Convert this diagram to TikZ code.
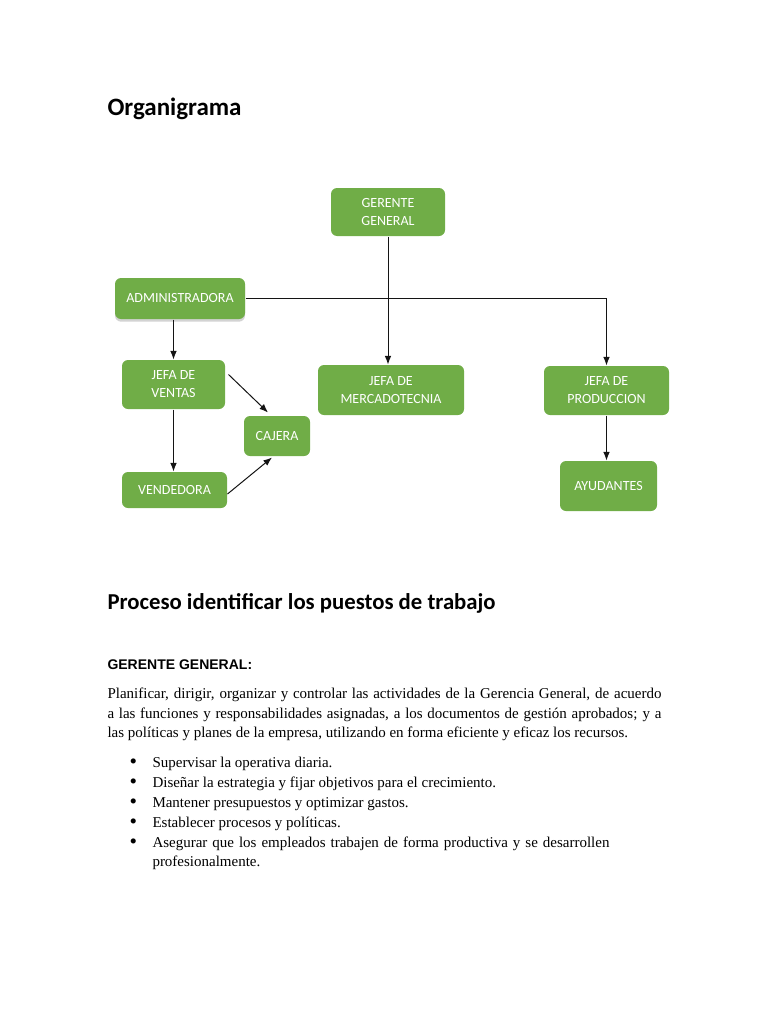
\documentclass[tikz,border=0pt]{standalone}
\usepackage{fontspec}
\setmainfont{Liberation Serif}
\setsansfont{Carlito}
\newfontfamily\arialfont{Liberation Sans}
\usetikzlibrary{arrows.meta,shadows}

\definecolor{boxgreen}{RGB}{112,173,71}
\tikzset{every picture/.style={line width=0.75pt}}
\tikzset{
  orgbox/.style={fill=boxgreen, rounded corners=4.5pt, inner sep=0pt,
    align=center, text=white, font=\sffamily\fontsize{10.5}{13.5}\selectfont},
  orgline/.style={draw={rgb,255:red,20;green,20;blue,20}, line width=0.75pt},
  orgarrow/.style={orgline, -{Latex[length=6.5pt,width=5pt]}},
  bodytext/.style={inner sep=0pt, font=\rmfamily\fontsize{11.25}{14.6}\selectfont}
}

\begin{document}
\begin{tikzpicture}[x=0.75pt,y=0.75pt,yscale=-1,xscale=1]
\useasboundingbox (0,0) rectangle (768,1024);

% Title
\node (title) [anchor=base west, inner sep=0pt, font=\sffamily\bfseries\fontsize{18.75}{22}\selectfont] at (107,115) {Organigrama};

%Shape: Boxes
\node (gg) [orgbox, minimum width=85.5pt, minimum height=36pt] at (388,212) {GERENTE\\GENERAL};
\node (adm) [orgbox, minimum width=97.5pt, minimum height=30.75pt,
  drop shadow={opacity=0.35, shadow xshift=0pt, shadow yshift=-2pt}] at (180,298.5) {ADMINISTRADORA};
\node (jv) [orgbox, minimum width=77.25pt, minimum height=36.75pt] at (173.5,384.5) {JEFA DE\\VENTAS};
\node (jm) [orgbox, minimum width=109.5pt, minimum height=37.5pt] at (391,390) {JEFA DE\\MERCADOTECNIA};
\node (jp) [orgbox, minimum width=93.75pt, minimum height=36.75pt] at (606.5,390.5) {JEFA DE\\PRODUCCION};
\node (cj) [orgbox, minimum width=49.5pt, minimum height=30pt] at (277,436) {CAJERA};
\node (vd) [orgbox, minimum width=78.75pt, minimum height=27pt] at (174.5,490) {VENDEDORA};
\node (ay) [orgbox, minimum width=72.75pt, minimum height=37.5pt] at (608.5,486) {AYUDANTES};

%Connectors
\draw [orgarrow] (gg.south) -- (gg.south |- jm.north);
\draw [orgarrow] (adm.east) -| (jp.north);
\draw [orgarrow] (jv.north |- adm.south) -- (jv.north);
\draw [orgarrow] (jv.south) -- (jv.south |- vd.north);
\draw [orgarrow] ([shift={(3,-10)}]jv.east) -- ([shift={(-9,-3)}]cj.north);
\draw [orgarrow] ([shift={(0,4)}]vd.east) -- ([shift={(-5,1)}]cj.south);
\draw [orgarrow] (jp.south) -- (jp.south |- ay.north);

% Text Node
\node (sec) [anchor=base west, inner sep=0pt, font=\sffamily\bfseries\fontsize{17.05}{20}\selectfont] at (107,609) {Proceso identificar los puestos de trabajo};
% Text Node
\node (sub) [anchor=base west, inner sep=0pt, font=\arialfont\bfseries\fontsize{10.5}{12}\selectfont] at (107,669) {GERENTE GENERAL:};
% Text Node
\node (par) [bodytext, anchor=north west, text width=415.5pt, align=justify] at (107,684.4)
  {\strut Planificar, dirigir, organizar y controlar las actividades de la Gerencia General, de acuerdo\linebreak
   a las funciones y responsabilidades asignadas, a los documentos de gestión aprobados; y a\linebreak
   las políticas y planes de la empresa, utilizando en forma eficiente y eficaz los recursos.};

% Bullets
\foreach \txt [count=\i] in {Supervisar la operativa diaria.,
  Diseñar la estrategia y fijar objetivos para el crecimiento.,
  Mantener presupuestos y optimizar gastos.,
  Establecer procesos y políticas.}
{
  \node (dot\i) [bodytext, anchor=base west, font=\rmfamily\fontsize{16}{16}\selectfont] at (129,748+20*\i) {•};
  \node (item\i) [bodytext, anchor=base west] at (152,747+20*\i) {\txt};
}
% Text Node
\node (dot5) [bodytext, anchor=base west, font=\rmfamily\fontsize{16}{16}\selectfont] at (129,848) {•};
\node (item5) [bodytext, anchor=base west] at (152,847)
  {\makebox[342.75pt][s]{Asegurar que los empleados trabajen de forma productiva y se desarrollen}};
% Text Node
\node (item6) [bodytext, anchor=base west] at (152,866) {profesionalmente.};
\end{tikzpicture}
\end{document}
